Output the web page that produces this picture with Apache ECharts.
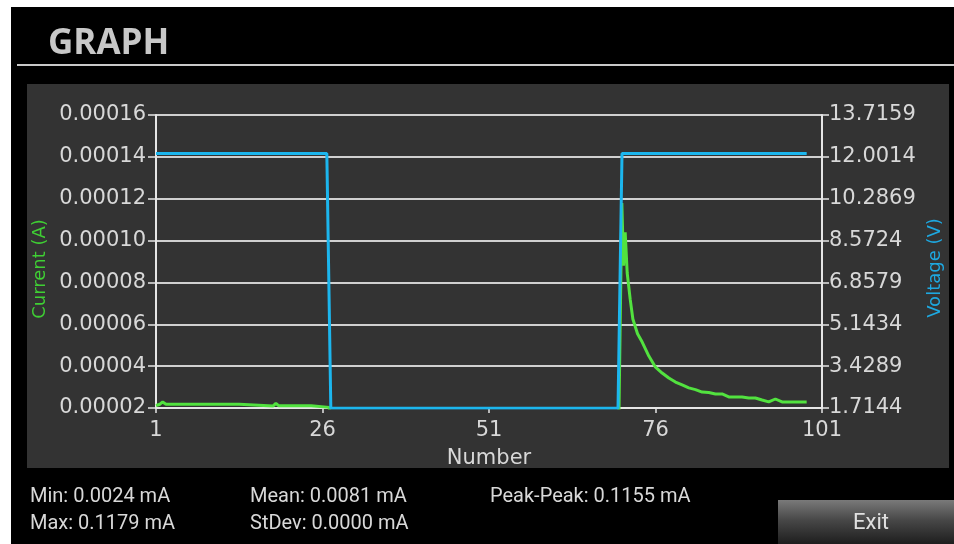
<!DOCTYPE html>
<html>
<head>
<meta charset="utf-8">
<script src="https://cdn.jsdelivr.net/npm/echarts@6/dist/echarts.min.js"></script>
<style>
html,body{margin:0;padding:0;background:#fff;}
#chart{width:954px;height:544px;}
</style>
</head>
<body>
<div id="chart"></div>
<script>
// ---- data ----
const xTickValues = [1, 26, 51, 76, 101];
const rightTickValues = [1.7144, 3.4289, 5.1434, 6.8579, 8.5724, 10.2869, 12.0014, 13.7159];

// Current (A) vs reading number
const currentX = [1, 1.6, 2.0, 2.5, 13.5, 13.7, 18.6, 19.0, 19.4, 24.3, 24.5, 27.0, 27.5,
  70.45, 70.95, 71.2, 71.45, 71.75, 72.2, 72.6, 73.3, 74, 75, 76, 77, 78, 79, 80,
  81, 82, 83, 84, 85, 86, 87, 88, 89, 90, 91, 92, 93, 94, 95, 96, 97, 98, 98.7];
const currentY = [0.0000212, 0.0000218, 0.0000229, 0.0000218, 0.0000218, 0.0000210, 0.0000210, 0.0000222, 0.0000211, 0.0000211, 0.0000203, 0.0000203, 0.0000024,
  0.0000024, 0.0001179, 0.0000880, 0.0001040, 0.0000845, 0.0000720, 0.0000625, 0.0000555, 0.0000515, 0.0000448, 0.0000395, 0.0000367, 0.0000343, 0.0000324, 0.0000310,
  0.0000296, 0.0000288, 0.0000276, 0.0000274, 0.0000267, 0.0000267, 0.0000253, 0.0000253, 0.0000253, 0.0000248, 0.0000248, 0.0000238, 0.0000229, 0.0000243, 0.0000229, 0.0000229, 0.0000229, 0.0000229, 0.0000229];

// Voltage (V) vs reading number
const voltageX = [1, 26.65, 27.25, 70.37, 70.97, 98.7];
const voltageY = [12.14, 12.14, 1.70, 1.70, 12.14, 12.14];

const statsText = [
  ['Min: 0.0024 mA', 'Max: 0.1179 mA'],
  ['Mean: 0.0081 mA', 'StDev: 0.0000 mA'],
  ['Peak-Peak: 0.1155 mA']
];

// ---- chart ----
const chart = echarts.init(document.getElementById('chart'), null, {renderer: 'canvas'});
const zip = (xs, ys) => xs.map((x, i) => [x, ys[i]]);
const labelColor = '#d8d8d8';
const lineColor = '#d0d0d0';
const axisFont = 'DejaVu Sans';

const statColsX = [30, 250, 490];
const statRowsY = [497, 524];
const statEls = [];
statsText.forEach((col, ci) => col.forEach((t, ri) => {
  statEls.push({type: 'text', x: statColsX[ci], y: statRowsY[ri], z: 10,
    style: {text: t, fill: '#d8d8d8', font: '20px Roboto', textAlign: 'left', textVerticalAlign: 'middle'}});
}));

const option = {
  backgroundColor: '#ffffff',
  animation: false,
  grid: {left: 156, right: 132, top: 115, bottom: 136, containLabel: false},
  xAxis: {
    type: 'value', min: 1, max: 101,
    axisLine: {show: true, onZero: false, lineStyle: {color: '#e6e6e6', width: 2}},
    axisTick: {show: true, customValues: xTickValues, length: 5, lineStyle: {color: '#e6e6e6', width: 1.5}},
    axisLabel: {customValues: xTickValues, color: labelColor, fontSize: 21, fontFamily: axisFont, margin: 12},
    splitLine: {show: false},
    name: 'Number', nameLocation: 'middle', nameGap: 40,
    nameTextStyle: {color: labelColor, fontSize: 21, fontFamily: axisFont}
  },
  yAxis: [
    {
      type: 'value', position: 'left', min: 0.00002, max: 0.00016, interval: 0.00002,
      axisLine: {show: true, lineStyle: {color: '#e6e6e6', width: 2}},
      axisTick: {show: true, length: 8, lineStyle: {color: '#e6e6e6', width: 1.5}},
      axisLabel: {color: labelColor, fontSize: 21, fontFamily: axisFont, margin: 10,
        formatter: v => v.toFixed(5)},
      splitLine: {show: true, lineStyle: {color: lineColor, width: 2}}
    },
    {
      type: 'value', position: 'right', min: 1.7144, max: 13.7159,
      axisLine: {show: true, lineStyle: {color: '#e6e6e6', width: 2}},
      axisTick: {show: true, customValues: rightTickValues, length: 7, lineStyle: {color: '#e6e6e6', width: 1.5}},
      axisLabel: {customValues: rightTickValues, color: labelColor, fontSize: 21, fontFamily: axisFont, margin: 7,
        formatter: v => v.toFixed(4)},
      splitLine: {show: false}
    }
  ],
  series: [
    {
      name: 'Current', type: 'line', xAxisIndex: 0, yAxisIndex: 0,
      data: zip(currentX, currentY), showSymbol: false, symbol: 'none',
      lineStyle: {color: '#52e23f', width: 3}, clip: true
    },
    {
      name: 'Voltage', type: 'line', xAxisIndex: 0, yAxisIndex: 1,
      data: zip(voltageX, voltageY), showSymbol: false, symbol: 'none',
      lineStyle: {color: '#1cb6ee', width: 3}, clip: true
    }
  ],
  graphic: {elements: [
    {type: 'rect', shape: {x: 11, y: 7, width: 943, height: 537}, style: {fill: '#000000'}, z: -100, silent: true},
    {type: 'rect', shape: {x: 27, y: 84, width: 922, height: 384}, style: {fill: '#333333'}, z: -90, silent: true},
    {type: 'text', x: 48, y: 44, z: 10, style: {text: 'GRAPH', fill: '#c8c8c8', font: 'bold 35px "Open Sans"', textAlign: 'left', textVerticalAlign: 'middle'}},
    {type: 'rect', shape: {x: 17, y: 64, width: 937, height: 2}, style: {fill: '#c8c8c8'}, z: 10},
    {type: 'text', x: 40, y: 269, rotation: Math.PI / 2, z: 10, style: {text: 'Current (A)', fill: '#3fcf34', font: '18px "DejaVu Sans"', textAlign: 'center', textVerticalAlign: 'middle'}},
    {type: 'text', x: 935, y: 268, rotation: Math.PI / 2, z: 10, style: {text: 'Voltage (V)', fill: '#1ea8e0', font: '18px "DejaVu Sans"', textAlign: 'center', textVerticalAlign: 'middle'}},
    ...statEls,
    {type: 'rect', shape: {x: 778, y: 500, width: 176, height: 44}, z: 10,
      style: {fill: new echarts.graphic.LinearGradient(0, 0, 0, 1, [
        {offset: 0, color: '#7a7a7a'}, {offset: 0.45, color: '#484848'}, {offset: 1, color: '#1e1e1e'}])}},
    {type: 'text', x: 871, y: 523, z: 11, style: {text: 'Exit', fill: '#e0e0e0', font: '22px Roboto', textAlign: 'center', textVerticalAlign: 'middle'}}
  ]}
};
chart.setOption(option);
</script>
</body>
</html>
